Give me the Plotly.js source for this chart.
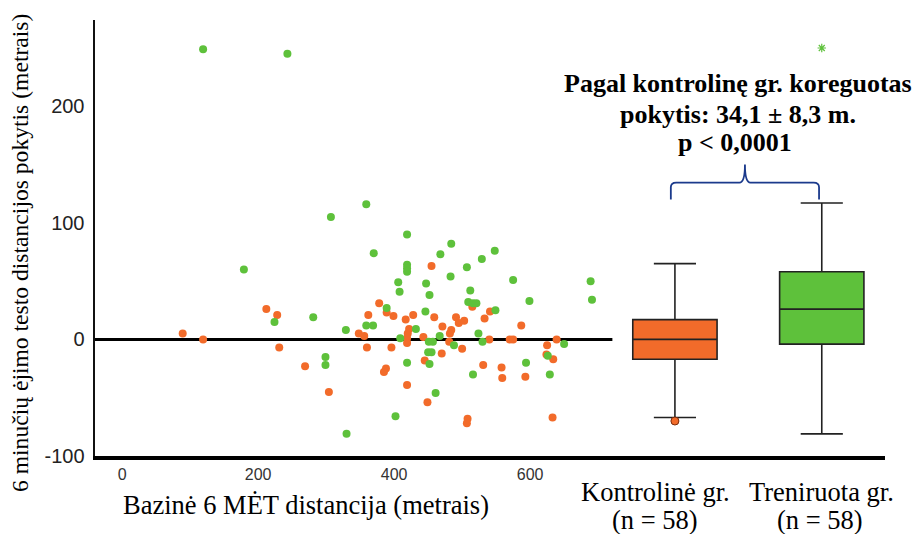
<!DOCTYPE html>
<html>
<head>
<meta charset="utf-8">
<script src="https://cdn.plot.ly/plotly-3.0.1.min.js"></script>
<style>
  html, body { margin: 0; padding: 0; background: #fff; }
  #chart { width: 914px; height: 534px; }
</style>
</head>
<body>
<div id="chart"></div>
<script>
// Baseline 6MWT distance (m) and change in distance (m), control group
const controlBaseline = [212, 228, 89, 119, 231, 269, 304, 455, 515, 378, 389, 399, 362, 348, 356, 360,
  417, 428, 459, 422, 420, 419, 419, 491, 495, 503, 471, 484, 482, 443, 481, 500, 396, 470, 445, 388,
  385, 419, 449, 508, 507, 541, 533, 587, 540, 570, 575, 639, 625, 624, 634, 531, 558, 559, 593, 633];
const controlChange = [26, 21, 5, 0, -7, -23, -45, 63, 28, 31, 23, 20, 21, 5, 3, -7,
  17, 21, 19, 9, 5, 1, -3, 19, 14, 16, 11, 8, 5, 2, -2, -8, -7, -12, -18, -25,
  -28, -39, -54, -68, -72, 24, 18, 12, 0, 0, 0, 0, -5, -13, -17, -22, -24, -33, -32, -67];

// Baseline 6MWT distance (m) and change in distance (m), training group
const trainBaseline = [119, 243, 307, 179, 224, 281, 329, 299, 299, 330, 359, 419, 370, 484, 468, 419,
  419, 419, 507, 529, 483, 406, 447, 408, 452, 512, 509, 516, 521, 389, 359, 369, 446, 432, 467, 409,
  451, 457, 488, 450, 455, 419, 452, 516, 461, 402, 548, 575, 689, 549, 599, 691, 524, 530, 650, 626,
  594, 629];
const trainChange = [249, 245, 105, 60, 15, 19, 8, -15, -22, -81, 116, 90, 74, 82, 73, 64,
  61, 58, 62, 69, 54, 49, 48, 41, 38, 42, 32, 31, 31, 27, 12, 12, 24, 9, 3, 1,
  -2, -2, -5, -11, -11, -20, -21, -30, -46, -66, 76, 51, 50, 25, 33, 34, 5, -2, -4, -14,
  -20, -30];

// Box summaries of the change (m): [lower whisker, Q1, median, Q3, upper whisker]
const groupNames = ['Kontrolinė gr.', 'Treniruota gr.'];
const groupN = [58, 58];
const controlBox = [-67, -17, 0, 17, 65];
const trainBox = [-81, -4, 26, 58, 117];
const controlOutliers = [-70];
const trainOutliers = [250];

// Horizontal positions of the two boxes on the shared x axis
const boxPos = [813, 1029];
const boxWidth = 124;

const xTicks = [0, 200, 400, 600];
const yTicks = [-100, 0, 100, 200];
const yTickText = ['-100', '0', '100', '200'];

const orange = '#F26B2A';
const green = '#5EC13B';
const serif = 'Liberation Serif, Times New Roman, serif';
const sans = 'Liberation Sans, Arial, sans-serif';

function boxTrace(stats, pos, fill) {
  return {
    type: 'box', x: [pos],
    lowerfence: [stats[0]], q1: [stats[1]], median: [stats[2]], q3: [stats[3]], upperfence: [stats[4]],
    width: boxWidth, whiskerwidth: 0.5, boxpoints: false,
    fillcolor: fill, line: { color: '#222', width: 1.6 },
    hoverinfo: 'skip', showlegend: false
  };
}

const traces = [
  {
    type: 'scatter', mode: 'markers', x: controlBaseline, y: controlChange,
    marker: { color: orange, size: 8 }, hoverinfo: 'x+y', showlegend: false
  },
  {
    type: 'scatter', mode: 'markers', x: trainBaseline, y: trainChange,
    marker: { color: green, size: 8 }, hoverinfo: 'x+y', showlegend: false
  },
  boxTrace(controlBox, boxPos[0], orange),
  boxTrace(trainBox, boxPos[1], green),
  {
    type: 'scatter', mode: 'markers', x: controlOutliers.map(() => boxPos[0]), y: controlOutliers,
    marker: { color: orange, size: 8, line: { color: '#7a2a0a', width: 1 } }, showlegend: false
  },
  {
    type: 'scatter', mode: 'markers', x: trainOutliers.map(() => boxPos[1]), y: trainOutliers,
    marker: { symbol: 'asterisk-open', color: green, size: 7, line: { color: green, width: 1.2 } },
    showlegend: false
  }
];

// Curly brace joining the two boxes
const bL = boxPos[0] - 6, bR = boxPos[1] - 4, bM = (bL + bR) / 2;
const yEnd = 120, yBar = 134.5, yTip = 150, dx = 8;
const bracePath = [
  `M ${bL},${yEnd}`, `L ${bL},${yBar - 4}`, `Q ${bL},${yBar} ${bL + dx},${yBar}`,
  `L ${bM - dx},${yBar}`, `Q ${bM},${yBar} ${bM},${yTip}`,
  `Q ${bM},${yBar} ${bM + dx},${yBar}`, `L ${bR - dx},${yBar}`,
  `Q ${bR},${yBar} ${bR},${yBar - 4}`, `L ${bR},${yEnd}`
].join(' ');

function txt(text, x, y, size, bold, extra) {
  return Object.assign({
    text: bold ? `<b>${text}</b>` : text,
    xref: 'paper', yref: 'paper', x: x, y: y,
    xanchor: 'center', yanchor: 'middle', showarrow: false,
    font: { family: serif, size: size, color: '#000' }
  }, extra || {});
}

const layout = {
  width: 914, height: 534,
  margin: { l: 95, r: 29, t: 20, b: 78 },
  paper_bgcolor: '#fff', plot_bgcolor: '#fff',
  boxmode: 'overlay',
  xaxis: {
    range: [-40, 1122], tickvals: xTicks, ticks: '', showgrid: false, zeroline: false,
    showline: true, linecolor: '#000', linewidth: 4,
    tickfont: { family: sans, size: 16, color: '#333' }, ticklabelstandoff: 1
  },
  yaxis: {
    range: [-100, 274], tickvals: yTicks, ticktext: yTickText, ticks: '', showgrid: false, zeroline: false,
    showline: true, linecolor: '#111', linewidth: 2.5,
    tickfont: { family: sans, size: 20, color: '#222' }, ticklabelstandoff: 4
  },
  shapes: [
    { type: 'line', xref: 'x', yref: 'y', x0: -40, x1: 721, y0: 0, y1: 0,
      line: { color: '#000', width: 3 }, layer: 'below' },
    { type: 'path', xref: 'x', yref: 'y', path: bracePath,
      line: { color: '#1B3A8C', width: 1.8 } }
  ],
  annotations: [
    txt('Bazinė 6 MĖT distancija (metrais)', 0.267, -0.112, 26.5),
    txt('6 minučių ėjimo testo distancijos pokytis (metrais)', -0.094, 0.465, 23.6, false, { textangle: -90 }),
    txt(groupNames[0], 0.71, -0.083, 26.5),
    txt(`(n = ${groupN[0]})`, 0.709, -0.147, 26.5),
    txt(groupNames[1], 0.92, -0.083, 26.5),
    txt(`(n = ${groupN[1]})`, 0.918, -0.147, 26.5),
    txt('Pagal kontrolinę gr. koreguotas', 0.814, 0.8555, 26, true),
    txt('pokytis: 34,1 ± 8,3 m.', 0.814, 0.7844, 26, true),
    txt('p < 0,0001', 0.81, 0.7179, 26, true)
  ]
};

Plotly.newPlot('chart', traces, layout, { staticPlot: true });
</script>
</body>
</html>
